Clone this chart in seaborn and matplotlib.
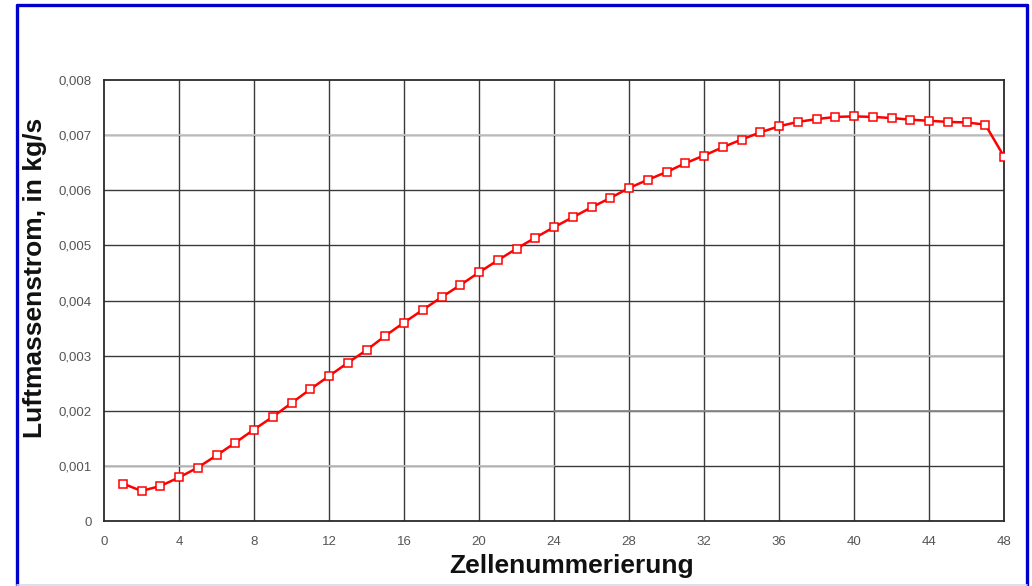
import matplotlib
matplotlib.use("Agg")
import matplotlib.pyplot as plt
from matplotlib.lines import Line2D
from matplotlib.ticker import FuncFormatter
import seaborn as sns
import pandas as pd

# Air mass flow per cell
zellen = list(range(1, 49))
massenstrom = [
    0.00068, 0.000545, 0.000635, 0.00079, 0.00097, 0.00119, 0.00142, 0.00166,
    0.00189, 0.00214, 0.00239, 0.00263, 0.00287, 0.00310, 0.00336, 0.00360,
    0.00383, 0.00406, 0.00428, 0.00451, 0.00473, 0.00494, 0.00514, 0.00533,
    0.00551, 0.00569, 0.00586, 0.00604, 0.00619, 0.00633, 0.00649, 0.00663,
    0.00678, 0.00692, 0.00705, 0.00716, 0.00724, 0.00729, 0.00733, 0.00734,
    0.00733, 0.00731, 0.00728, 0.00726, 0.00724, 0.00723, 0.00719, 0.00661,
]
x_ticks = list(range(0, 49, 4))
y_ticks = [0.000, 0.001, 0.002, 0.003, 0.004, 0.005, 0.006, 0.007, 0.008]

df = pd.DataFrame({"Zelle": zellen, "Massenstrom": massenstrom})

sns.set_style("white")
plt.rcParams["font.family"] = ["Liberation Sans", "DejaVu Sans"]

fig = plt.figure(figsize=(10.32, 5.86), dpi=100)
ax = fig.add_axes([0.1008, 0.1109, 0.8721, 0.7526])

sns.lineplot(
    data=df, x="Zelle", y="Massenstrom", ax=ax,
    color="#ff0000", linewidth=1.8, marker="s", markersize=5.2,
    markerfacecolor="white", markeredgecolor="#ff0000", markeredgewidth=1.1,
    zorder=5,
)

ax.set_xlim(0, 48)
ax.set_ylim(0, 0.008)
ax.set_xticks(x_ticks)
ax.set_yticks(y_ticks)
ax.yaxis.set_major_formatter(FuncFormatter(
    lambda v, p: "0" if abs(v) < 1e-12 else f"{v:.3f}".replace(".", ",")))

# grid
grid_dark = "#3a3a3a"
for xv in x_ticks[1:-1]:
    ax.axvline(xv, color=grid_dark, lw=1.0, zorder=1)
for yv in y_ticks[1:-1]:
    ax.axhline(yv, color=grid_dark, lw=1.0, zorder=1)
# lighter grid segments
ax.axhline(0.007, color="#c8c8c8", lw=1.3, zorder=1.5)
ax.axhline(0.001, xmin=0, xmax=0.5, color="#c0c0c0", lw=1.3, zorder=1.5)
ax.axhline(0.003, xmin=0.5, xmax=1, color="#bdbdbd", lw=1.3, zorder=1.5)
ax.axhline(0.002, xmin=0.5, xmax=1, color="#8a8a8a", lw=1.3, zorder=1.5)

for side in ["left", "bottom", "top", "right"]:
    ax.spines[side].set_visible(True)
    ax.spines[side].set_color("#2a2a2a")
    ax.spines[side].set_linewidth(1.3)

ax.tick_params(axis="both", direction="out", length=5, width=1, color="#333333",
               labelsize=9.5, labelcolor="#555555", pad=6)
ax.tick_params(axis="y", pad=4)

ax.set_xlabel("Zellenummerierung", fontsize=19, fontweight="bold", color="#111111")
ax.set_ylabel("Luftmassenstrom, in kg/s", fontsize=19, fontweight="bold", color="#111111")
ax.xaxis.set_label_coords(0.519, -0.102)
ax.xaxis.label.set_va("center")
ax.yaxis.set_label_coords(-0.0767, 0.551)
ax.yaxis.label.set_va("center")

# blue frame around the chart
W, H = 1032, 586
def fx(px):
    return px / W
def fy(py):
    return 1 - py / H
blue = "#0000cc"
fig.add_artist(Line2D([fx(16.5), fx(16.5)], [fy(4.5), fy(586)], color=blue, lw=2.4))
fig.add_artist(Line2D([fx(16.5), fx(1027)], [fy(4.5), fy(4.5)], color=blue, lw=2.4))
fig.add_artist(Line2D([fx(1027), fx(1027)], [fy(4.5), fy(586)], color=blue, lw=2.4))
fig.add_artist(Line2D([fx(16.5), fx(1027)], [fy(585), fy(585)], color="#d8d8f0", lw=1.2))

fig.savefig("out.png", dpi=100, facecolor="white")
